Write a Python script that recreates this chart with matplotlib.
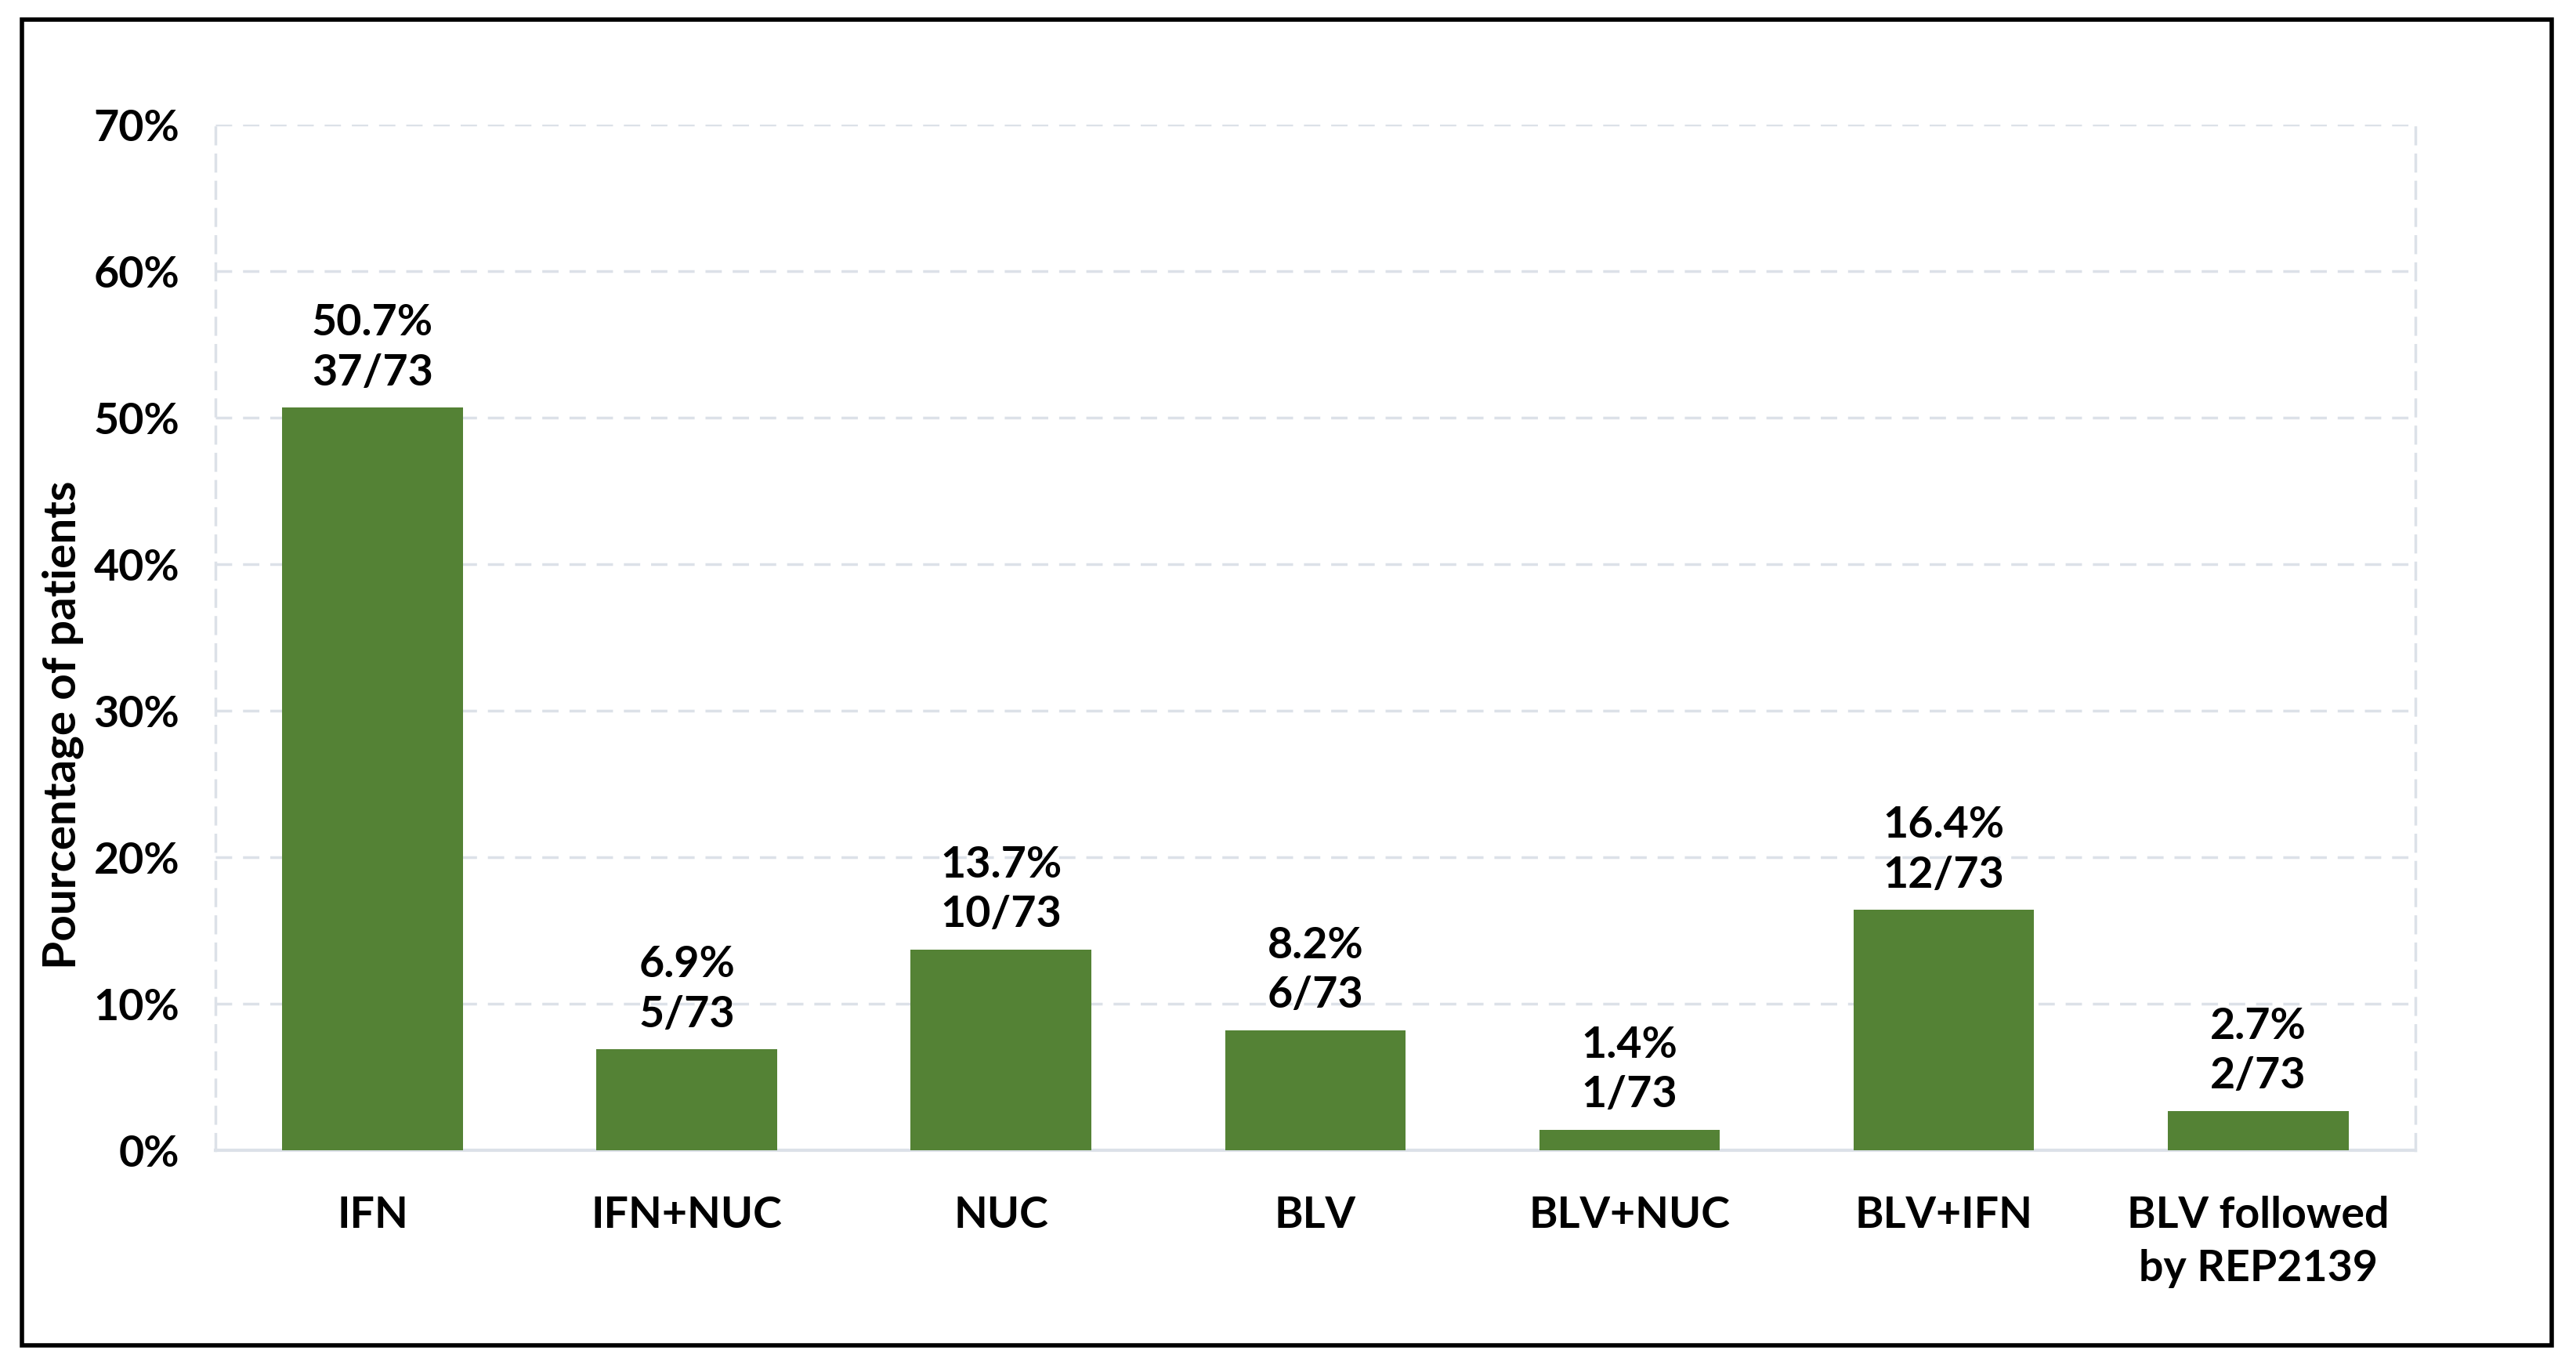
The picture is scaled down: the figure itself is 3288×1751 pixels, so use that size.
import matplotlib
matplotlib.use("Agg")
import matplotlib.pyplot as plt
from matplotlib.patches import Rectangle

plt.rcParams['font.family'] = ['Lato', 'DejaVu Sans']
plt.rcParams['font.weight'] = 'bold'

# data
categories = ['IFN', 'IFN+NUC', 'NUC', 'BLV', 'BLV+NUC', 'BLV+IFN', 'BLV followed\nby REP2139']
percent = [50.7, 6.9, 13.7, 8.2, 1.4, 16.4, 2.7]
counts = ['37/73', '5/73', '10/73', '6/73', '1/73', '12/73', '2/73']
yticks = [0, 10, 20, 30, 40, 50, 60, 70]

bar_color = '#548235'
grid_color = '#DCE1E8'

fig = plt.figure(figsize=(32.88, 17.51), dpi=100)
ax = fig.add_axes([0.0836, 0.1616, 0.854, 0.7474])

x = range(len(categories))
ax.bar(x, percent, width=0.575, color=bar_color, zorder=3)

# labels above the bars
for i in x:
    ax.annotate(f"{percent[i]}%\n{counts[i]}", (i, percent[i]),
                xytext=(0, 14), textcoords='offset points',
                ha='center', va='bottom', fontsize=40, fontweight='bold',
                linespacing=1.33)

ax.set_xlim(-0.5, len(categories) - 0.5)
ax.set_ylim(0, 70)
ax.set_yticks(yticks)
ax.set_yticklabels([f"{t}%" for t in yticks])
ax.set_xticks(list(x))
ax.set_xticklabels(categories, linespacing=1.42)
ax.tick_params(axis='both', length=0, labelsize=40)
ax.tick_params(axis='x', pad=42)
ax.tick_params(axis='y', pad=33)

ax.yaxis.grid(True, color=grid_color, linestyle=(0, (6, 4)), linewidth=2.5, zorder=0)
for side in ['left', 'right', 'top']:
    ax.spines[side].set_color(grid_color)
    ax.spines[side].set_linestyle((0, (6, 4)))
    ax.spines[side].set_linewidth(2.5)
ax.spines['top'].set_visible(False)
ax.spines['bottom'].set_color(grid_color)
ax.spines['bottom'].set_linewidth(3)

fig.text(0.0245, 0.4717, 'Pourcentage of patients', rotation=90,
         ha='center', va='center', fontsize=42, fontweight='bold')

# black frame around the figure
fig.patches.append(Rectangle((0.0085, 0.0195), 0.982, 0.966, transform=fig.transFigure,
                             fill=False, edgecolor='black', linewidth=4))

fig.savefig('out.png', dpi=100, facecolor='white')
